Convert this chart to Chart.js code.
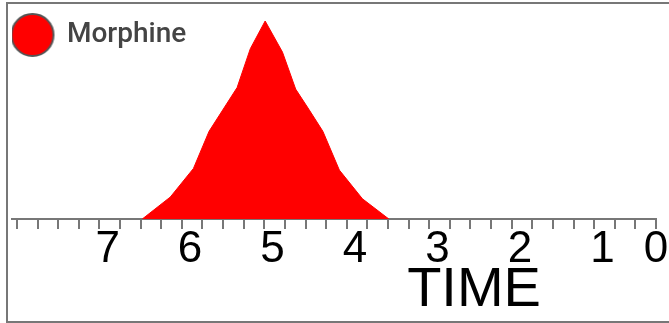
<!DOCTYPE html>
<html>
<head>
<meta charset="utf-8">
<script src="https://cdn.jsdelivr.net/npm/chart.js@4/dist/chart.umd.min.js"></script>
<style>
    html, body { margin: 0; padding: 0; background: #fff; overflow: hidden; }
    #wrap { position: relative; width: 669px; height: 323px; }
    #frame {
        position: absolute; left: 6px; top: 2px; width: 720px; height: 317px;
        border: 2px solid #777; pointer-events: none;
    }
    canvas { position: absolute; left: 0; top: 0; }
</style>
</head>
<body>
<div id="wrap">
    <div id="frame"></div>
    <canvas id="chart" width="669" height="323"></canvas>
</div>
<script>
// Series data (time in hours)
const SERIES_NAME = 'Morphine';
const TIME_H = [6.58, 6.24, 5.96, 5.77, 5.43, 5.27, 5.09, 4.88, 4.72, 4.56, 4.39, 4.19, 3.91, 3.59];
const LEVEL = [0, 11.1, 25.5, 44.3, 66.4, 86.0, 100, 84.3, 65.6, 55.4, 44.3, 24.7, 10.2, 0];

// Axis labels and ranges
const TICK_LABELS = [7, 6, 5, 4, 3, 2, 1, 0];
const AXIS_TITLE = 'TIME';
const X_MIN = 0.35;
const X_MAX = 8.16;
const MINOR_MAX = 7.81;
const MINOR_STEP = 0.25;

/**
 * Legend marker: red disc with grey rim
 */
function makeMarker() {
    const c = document.createElement('canvas');
    c.width = 46;
    c.height = 46;
    const g = c.getContext('2d');
    g.beginPath();
    g.arc(23, 23, 21, 0, Math.PI * 2);
    g.fillStyle = '#ff0000';
    g.fill();
    g.lineWidth = 2;
    g.strokeStyle = '#555';
    g.stroke();
    return c;
}

document.addEventListener('DOMContentLoaded', () => {
    const points = TIME_H.map((t, i) => ({ x: t, y: LEVEL[i] }));

    new Chart(document.getElementById('chart'), {
        type: 'line',
        data: {
            datasets: [{
                label: SERIES_NAME,
                data: points,
                xAxisID: 'x',
                yAxisID: 'y',
                fill: 'origin',
                backgroundColor: '#ff0000',
                borderColor: '#ff0000',
                borderWidth: 1,
                pointRadius: 0,
                tension: 0
            }]
        },
        options: {
            responsive: false,
            animation: false,
            layout: { padding: { top: 21, left: 12, right: 13, bottom: 0 } },
            plugins: {
                tooltip: { enabled: false },
                legend: {
                    position: 'chartArea',
                    align: 'start',
                    // empty title only pushes the legend row down
                    title: {
                        display: true,
                        text: '',
                        padding: { top: 11, bottom: 0 },
                        font: { size: 10, lineHeight: 1 }
                    },
                    labels: {
                        usePointStyle: true,
                        pointStyle: makeMarker(),
                        pointStyleWidth: 41,
                        padding: 0,
                        color: '#444',
                        font: { family: 'Roboto', size: 28, weight: '500' }
                    }
                }
            },
            scales: {
                xt: {
                    type: 'linear',
                    position: 'bottom',
                    weight: 0,
                    reverse: true,
                    min: 0,
                    max: MINOR_MAX,
                    ticks: { display: false, stepSize: MINOR_STEP, includeBounds: false },
                    grid: {
                        drawOnChartArea: false,
                        drawTicks: true,
                        tickLength: 10,
                        color: '#777',
                        lineWidth: 2
                    },
                    border: { display: true, color: '#777', width: 2 }
                },
                x: {
                    type: 'linear',
                    position: 'bottom',
                    weight: 1,
                    reverse: true,
                    min: X_MIN,
                    max: X_MAX,
                    afterBuildTicks: scale => {
                        scale.ticks = TICK_LABELS.map(v => ({ value: Math.max(v, scale.min) }));
                    },
                    ticks: {
                        callback: (value, index) => String(TICK_LABELS[index]),
                        autoSkip: false,
                        maxRotation: 0,
                        padding: -1.5,
                        color: '#000',
                        font: { family: 'Liberation Sans', size: 44, lineHeight: 1 }
                    },
                    grid: { display: false, drawTicks: false },
                    border: { display: false },
                    title: {
                        display: true,
                        text: '\u00a0'.repeat(18) + AXIS_TITLE,
                        align: 'center',
                        color: '#000',
                        padding: { top: 0, bottom: 11 },
                        font: { family: 'Liberation Sans', size: 56, lineHeight: 0.75 }
                    }
                },
                y: {
                    display: false,
                    min: 0,
                    max: 100
                }
            }
        }
    });
});
</script>
</body>
</html>
